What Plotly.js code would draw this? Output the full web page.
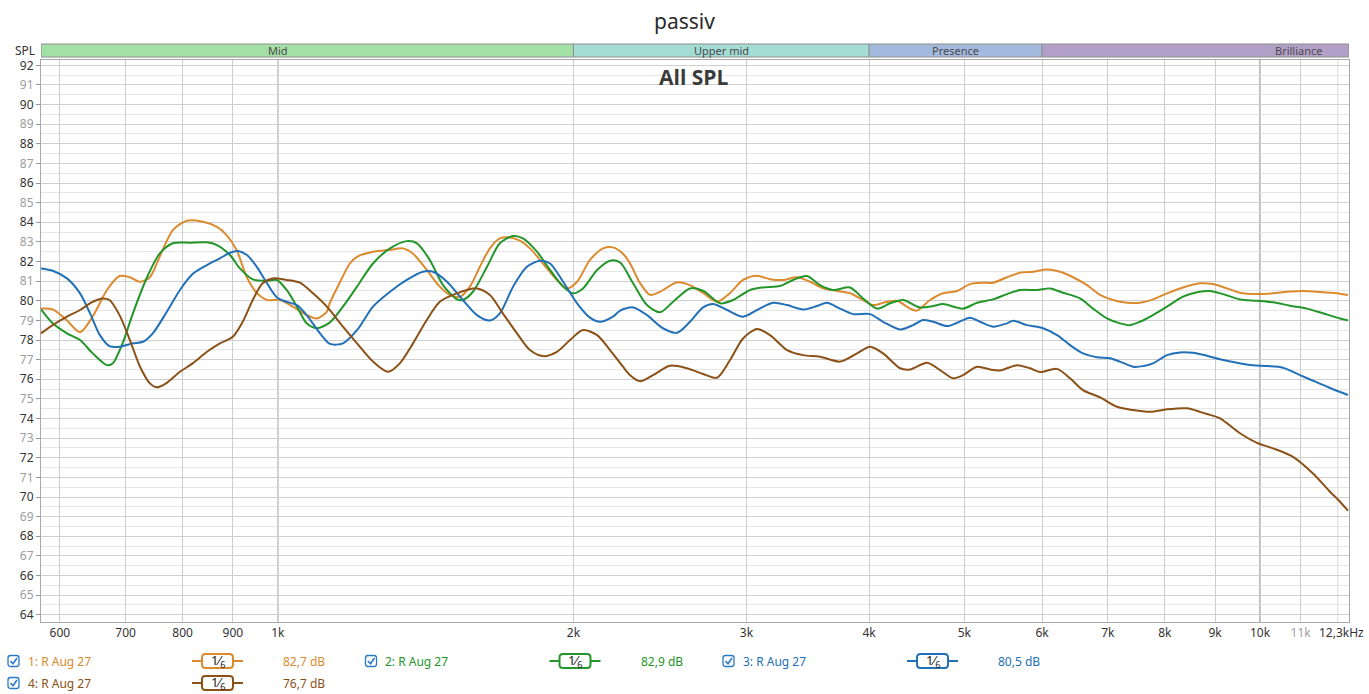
<!DOCTYPE html>
<html>
<head>
<meta charset="utf-8">
<script src="https://cdn.plot.ly/plotly-3.0.1.min.js"></script>
<style>
  html, body { margin: 0; padding: 0; background: #fff; }
  #chart { width: 1369px; height: 694px; }
</style>
</head>
<body>
<div id="chart"></div>
<script>
/* REW style SPL overlay, four measurements, 1/6 octave smoothing. */

// measurement 1 (orange)
const FREQ_1 = [574, 590, 610, 629, 648, 670, 690, 707, 724, 741, 758, 782, 808, 839, 867, 887, 908, 930, 952, 975,
  1005, 1036, 1070, 1096, 1122, 1130, 1157, 1184, 1204, 1250, 1301, 1341, 1373, 1418, 1462, 1497, 1533, 1569, 1606, 1644,
  1683, 1723, 1764, 1806, 1862, 1924, 1970, 2017, 2079, 2144, 2194, 2246, 2284, 2338, 2393, 2450, 2550, 2628, 2710, 2800,
  2887, 2976, 3076, 3171, 3269, 3378, 3483, 3590, 3710, 3825, 3943, 4037, 4172, 4270, 4403, 4476, 4614, 4757, 4916, 5067,
  5224, 5348, 5526, 5697, 5874, 6070, 6258, 6451, 6667, 6873, 7085, 7321, 7548, 7781, 8041, 8348, 8688, 8957, 9255, 9542,
  9930, 10310, 10654, 11061, 11511, 11979, 12291];
const SPL_1 = [79.6, 79.56, 79.0, 78.4, 79.2, 80.55, 81.26, 81.2, 80.97, 81.2, 82.24, 83.6, 84.08, 84.03, 83.77, 83.35, 82.58, 81.2, 80.4, 80.04,
  80.04, 79.7, 79.27, 79.1, 79.45, 79.9, 80.95, 81.9, 82.24, 82.5, 82.6, 82.67, 82.4, 81.57, 80.72, 80.3, 80.2, 80.72, 81.73, 82.67,
  83.18, 83.23, 83.06, 82.67, 81.9, 81.06, 80.63, 80.97, 82.08, 82.67, 82.72, 82.4, 81.9, 80.9, 80.3, 80.46, 80.94, 80.8, 80.4, 79.95,
  80.4, 81.06, 81.28, 81.1, 81.06, 81.2, 80.97, 80.63, 80.5, 80.38, 80.04, 79.78, 79.95, 80.0, 79.6, 79.5, 80.04, 80.38, 80.5, 80.85,
  80.92, 80.92, 81.2, 81.43, 81.48, 81.6, 81.48, 81.2, 80.8, 80.3, 80.04, 79.9, 79.9, 80.07, 80.38, 80.68, 80.89, 80.85, 80.63, 80.41,
  80.34, 80.38, 80.46, 80.5, 80.45, 80.38, 80.29];

// measurement 2 (green)
const FREQ_2 = [574, 590, 610, 629, 648, 670, 679, 695, 712, 736, 758, 782, 814, 847, 867, 894, 915, 943, 975, 998,
  1021, 1046, 1070, 1096, 1130, 1165, 1204, 1250, 1301, 1353, 1386, 1428, 1473, 1522, 1543, 1580, 1633, 1683, 1736, 1777,
  1836, 1893, 1952, 1998, 2045, 2114, 2179, 2231, 2300, 2376, 2450, 2526, 2628, 2710, 2820, 2907, 3026, 3119, 3246, 3346,
  3458, 3565, 3676, 3825, 3943, 4075, 4201, 4331, 4507, 4647, 4757, 4985, 5151, 5348, 5526, 5697, 5929, 6113, 6302, 6558,
  6761, 6985, 7202, 7373, 7548, 7781, 8041, 8348, 8627, 8894, 9169, 9542, 9930, 10310, 10729, 11165, 11592, 12063, 12291];
const SPL_2 = [79.56, 78.85, 78.34, 78.0, 77.32, 76.72, 76.8, 77.83, 79.36, 81.2, 82.4, 82.93, 82.96, 82.98, 82.84, 82.33, 81.65, 81.09, 81.02, 81.06,
  80.55, 79.7, 78.85, 78.6, 78.9, 79.7, 80.72, 81.9, 82.67, 83.04, 82.93, 82.08, 80.8, 80.07, 80.04, 80.46, 81.73, 82.93, 83.3, 83.18,
  82.5, 81.57, 80.72, 80.38, 80.63, 81.57, 82.04, 81.95, 80.89, 79.78, 79.41, 79.95, 80.63, 80.51, 79.87, 80.04, 80.55, 80.68, 80.75, 81.06,
  81.26, 80.8, 80.55, 80.68, 80.12, 79.6, 79.87, 80.04, 79.66, 79.73, 79.83, 79.6, 79.9, 80.07, 80.34, 80.55, 80.55, 80.63, 80.41, 80.12,
  79.6, 79.1, 78.85, 78.76, 78.93, 79.27, 79.7, 80.21, 80.43, 80.5, 80.34, 80.07, 80.0, 79.92, 79.75, 79.6, 79.36, 79.1, 79.0];

// measurement 3 (blue)
const FREQ_3 = [574, 590, 610, 629, 644, 659, 674, 690, 712, 729, 746, 771, 795, 819, 847, 873, 894, 911, 930, 952,
  975, 998, 1021, 1046, 1070, 1104, 1130, 1165, 1204, 1250, 1301, 1353, 1405, 1439, 1487, 1543, 1595, 1644, 1683, 1736,
  1793, 1849, 1893, 1952, 2017, 2079, 2129, 2194, 2231, 2300, 2376, 2467, 2550, 2628, 2710, 2774, 2867, 2976, 3076, 3193,
  3300, 3426, 3540, 3624, 3736, 3852, 4009, 4133, 4301, 4434, 4539, 4647, 4802, 4916, 5067, 5187, 5348, 5526, 5605, 5792,
  6013, 6214, 6406, 6604, 6825, 7035, 7202, 7425, 7601, 7781, 8041, 8290, 8546, 8831, 9105, 9475, 9837, 10166, 10554, 10983,
  11430, 11867, 12291];
const SPL_3 = [81.65, 81.53, 81.14, 80.38, 79.36, 78.25, 77.69, 77.66, 77.83, 77.91, 78.34, 79.44, 80.55, 81.36, 81.82, 82.16, 82.45, 82.54, 82.33, 81.73,
  80.89, 80.17, 79.95, 79.78, 79.27, 78.34, 77.8, 77.83, 78.5, 79.7, 80.46, 81.06, 81.48, 81.48, 80.97, 80.04, 79.27, 79.0, 79.36, 80.72,
  81.73, 82.04, 81.9, 80.97, 79.87, 79.14, 78.93, 79.19, 79.5, 79.66, 79.27, 78.6, 78.37, 78.93, 79.66, 79.83, 79.53, 79.19, 79.53, 79.9,
  79.78, 79.56, 79.73, 79.9, 79.6, 79.32, 79.32, 78.93, 78.54, 78.76, 79.02, 78.93, 78.71, 78.88, 79.14, 78.93, 78.68, 78.85, 78.98, 78.76,
  78.6, 78.25, 77.74, 77.32, 77.12, 77.07, 76.9, 76.64, 76.67, 76.81, 77.23, 77.37, 77.35, 77.2, 77.02, 76.84, 76.71, 76.67, 76.59, 76.21,
  75.84, 75.49, 75.2];

// measurement 4 (brown)
const FREQ_4 = [574, 590, 610, 629, 648, 663, 674, 690, 707, 724, 741, 753, 771, 795, 819, 847, 873, 900, 921, 943,
  965, 988, 1021, 1053, 1086, 1122, 1165, 1204, 1250, 1295, 1331, 1373, 1418, 1462, 1522, 1595, 1644, 1695, 1752, 1806,
  1862, 1924, 1984, 2045, 2114, 2179, 2246, 2284, 2338, 2410, 2508, 2610, 2710, 2800, 2887, 2976, 3076, 3171, 3300, 3426,
  3565, 3736, 3888, 4009, 4133, 4301, 4403, 4582, 4723, 4870, 4985, 5151, 5311, 5436, 5658, 5833, 5971, 6214, 6406, 6604,
  6873, 7151, 7425, 7727, 8041, 8427, 8688, 8831, 9105, 9542, 9930, 10310, 10805, 11323, 11784, 12063, 12291];
const SPL_4 = [78.34, 78.76, 79.19, 79.53, 79.95, 80.12, 80.04, 79.27, 78.0, 76.64, 75.79, 75.59, 75.82, 76.38, 76.81, 77.4, 77.83, 78.17, 78.93, 80.04,
  80.89, 81.14, 81.06, 80.92, 80.38, 79.7, 78.68, 77.83, 76.9, 76.38, 76.81, 77.83, 79.02, 79.95, 80.38, 80.63, 80.29, 79.36, 78.34, 77.49,
  77.18, 77.4, 78.0, 78.51, 78.25, 77.49, 76.64, 76.21, 75.9, 76.21, 76.69, 76.56, 76.27, 76.08, 76.98, 78.08, 78.56, 78.25, 77.49, 77.23,
  77.15, 76.9, 77.32, 77.66, 77.32, 76.56, 76.5, 76.84, 76.47, 76.05, 76.21, 76.64, 76.5, 76.45, 76.72, 76.56, 76.37, 76.53, 76.05, 75.45,
  75.08, 74.6, 74.43, 74.34, 74.47, 74.52, 74.34, 74.23, 74.01, 73.25, 72.76, 72.48, 72.05, 71.2, 70.27, 69.76, 69.3];

const NAMES = ["1: R Aug 27", "2: R Aug 27", "3: R Aug 27", "4: R Aug 27"];
const LEVELS = ["82,7 dB", "82,9 dB", "80,5 dB", "76,7 dB"];
const COLORS = ["#dc8a2e", "#23962a", "#2270b8", "#8b5117"];

// frequency bands shown in the strip above the graph
const BAND_NAMES = ["Mid", "Upper mid", "Presence", "Brilliance"];
const BAND_LO = [500, 2000, 4000, 6000];
const BAND_HI = [2000, 4000, 6000, 20000];
const BAND_COLORS = ["#a3e0a6", "#a4dcd6", "#a4b9de", "#b3a0c8"];

const X_TICKS = [600, 700, 800, 900, 1000, 2000, 3000, 4000, 5000, 6000, 7000, 8000, 9000, 10000, 11000];
const X_LABELS = ["600", "700", "800", "900", "1k", "2k", "3k", "4k", "5k", "6k", "7k", "8k", "9k", "10k",
  '<span style="color:#a0a0a0">11k</span>'];
const END_LABEL = "12,3kHz";
const DECADES = [1000, 10000];
const FAINT_LINES = [12000];

const F_MIN = 574;
const F_MAX = 12320;
const SPL_MIN = 63.63;
const SPL_MAX = 92.27;

// page geometry (px) so the legend row can sit where REW puts it
const W = 1369, H = 694;
const M = { l: 41, r: 20, t: 60, b: 72 };
const PW = W - M.l - M.r;
const PH = H - M.t - M.b;
const px = (x) => (x - M.l) / PW;
const py = (y) => (H - M.b - y) / PH;

const FONT = "'Noto Sans', 'Open Sans', 'DejaVu Sans', sans-serif";

const freqs = [FREQ_1, FREQ_2, FREQ_3, FREQ_4];
const spls = [SPL_1, SPL_2, SPL_3, SPL_4];

const traces = freqs.map((f, i) => ({
  x: f,
  y: spls[i],
  type: "scatter",
  mode: "lines",
  name: NAMES[i],
  line: { color: COLORS[i], width: 2, shape: "spline", smoothing: 0.8 },
  hoverinfo: "skip",
}));

const yTicks = [];
const yLabels = [];
for (let v = 64; v <= 92; v++) {
  yTicks.push(v);
  yLabels.push(v % 2 === 0 ? String(v) : '<span style="color:#9c9c9c">' + v + "</span>");
}

const shapes = [];
const annotations = [];

// band strip
const BAND_Y0 = py(57);
const BAND_Y1 = py(44);
BAND_NAMES.forEach((name, i) => {
  shapes.push({
    type: "rect", xref: "x", yref: "paper",
    x0: Math.max(BAND_LO[i], F_MIN), x1: Math.min(BAND_HI[i], F_MAX),
    y0: BAND_Y0, y1: BAND_Y1,
    fillcolor: BAND_COLORS[i],
    line: { color: "#8e8e8e", width: 1 },
  });
  annotations.push({
    xref: "x", yref: "paper",
    x: Math.log10(Math.sqrt(BAND_LO[i] * BAND_HI[i])),
    y: (BAND_Y0 + BAND_Y1) / 2,
    text: name, showarrow: false,
    font: { family: FONT, size: 11, color: "#4a4a4a" },
    xanchor: "center", yanchor: "middle",
  });
});

// darker decade lines, fainter line near the top end
DECADES.forEach((f) => {
  shapes.push({
    type: "line", xref: "x", yref: "paper", x0: f, x1: f, y0: 0, y1: 1,
    line: { color: "#707070", width: 1 }, layer: "below",
  });
});
FAINT_LINES.forEach((f) => {
  shapes.push({
    type: "line", xref: "x", yref: "paper", x0: f, x1: f, y0: 0, y1: 1,
    line: { color: "#dadada", width: 1 }, layer: "below",
  });
});

annotations.push({
  xref: "paper", yref: "paper", x: px(1366), y: py(632),
  text: END_LABEL, showarrow: false, xanchor: "right", yanchor: "middle",
  font: { family: FONT, size: 12, color: "#333" },
});
annotations.push({
  xref: "paper", yref: "paper", x: px(37), y: (BAND_Y0 + BAND_Y1) / 2,
  text: "SPL", showarrow: false, xanchor: "right", yanchor: "middle",
  font: { family: FONT, size: 12, color: "#333" },
});
annotations.push({
  xref: "paper", yref: "paper", x: px(694), y: py(77),
  text: "<b>All SPL</b>", showarrow: false, xanchor: "center", yanchor: "middle",
  font: { family: "'Open Sans', 'Noto Sans', sans-serif", size: 21, color: "#3a3a3a" },
});

// legend: checkbox, name, 1/6 smoothing badge, level
const SLOTS = [[0, 0], [0, 1], [0, 2], [1, 0]];
function roundRect(x0, y0, x1, y1, r) {
  const X = (v) => px(v).toFixed(5), Y = (v) => py(v).toFixed(5);
  return "M" + X(x0 + r) + "," + Y(y0) + " L" + X(x1 - r) + "," + Y(y0) +
    " Q" + X(x1) + "," + Y(y0) + " " + X(x1) + "," + Y(y0 + r) +
    " L" + X(x1) + "," + Y(y1 - r) +
    " Q" + X(x1) + "," + Y(y1) + " " + X(x1 - r) + "," + Y(y1) +
    " L" + X(x0 + r) + "," + Y(y1) +
    " Q" + X(x0) + "," + Y(y1) + " " + X(x0) + "," + Y(y1 - r) +
    " L" + X(x0) + "," + Y(y0 + r) +
    " Q" + X(x0) + "," + Y(y0) + " " + X(x0 + r) + "," + Y(y0) + " Z";
}
NAMES.forEach((name, i) => {
  const row = SLOTS[i][0], col = SLOTS[i][1];
  const cy = 661 + row * 22;
  const dx = col * 357.5;
  // checkbox
  shapes.push({
    type: "path", xref: "paper", yref: "paper",
    path: roundRect(8 + dx, cy - 5.5, 19 + dx, cy + 5.5, 2.5),
    line: { color: "#2a78c8", width: 1.3 }, fillcolor: "#ffffff",
  });
  shapes.push({
    type: "path", xref: "paper", yref: "paper",
    path: "M" + px(10.5 + dx) + "," + py(cy) + " L" + px(13 + dx) + "," + py(cy + 2.8) +
      " L" + px(17 + dx) + "," + py(cy - 3),
    line: { color: "#2a78c8", width: 1.6 },
  });
  annotations.push({
    xref: "paper", yref: "paper", x: px(26 + dx), y: py(cy),
    text: name, showarrow: false, xanchor: "left", yanchor: "middle",
    font: { family: FONT, size: 12, color: COLORS[i] },
  });
  // smoothing badge
  shapes.push({
    type: "line", xref: "paper", yref: "paper",
    x0: px(192 + dx), x1: px(243 + dx), y0: py(cy), y1: py(cy),
    line: { color: COLORS[i], width: 2 },
  });
  shapes.push({
    type: "path", xref: "paper", yref: "paper",
    path: roundRect(202 + dx, cy - 7, 233 + dx, cy + 7, 3.5),
    line: { color: COLORS[i], width: 2 }, fillcolor: "#ffffff",
  });
  annotations.push({
    xref: "paper", yref: "paper", x: px(217.5 + dx), y: py(cy),
    text: "1\u2044<sub>6</sub>", showarrow: false, xanchor: "center", yanchor: "middle",
    font: { family: FONT, size: 13, color: "#222" },
  });
  annotations.push({
    xref: "paper", yref: "paper", x: px(327 + dx), y: py(cy),
    text: LEVELS[i], showarrow: false, xanchor: "right", yanchor: "middle",
    font: { family: FONT, size: 12, color: COLORS[i] },
  });
});

const layout = {
  width: W,
  height: H,
  margin: M,
  paper_bgcolor: "#ffffff",
  plot_bgcolor: "#ffffff",
  showlegend: false,
  font: { family: FONT, size: 12, color: "#333" },
  title: {
    text: "passiv",
    xref: "container", x: 0.5, xanchor: "center",
    yref: "container", y: 1 - 22 / H, yanchor: "middle",
    font: { family: FONT, size: 21, color: "#2a2a2a" },
  },
  xaxis: {
    type: "log",
    range: [Math.log10(F_MIN), Math.log10(F_MAX)],
    tickmode: "array",
    tickvals: X_TICKS,
    ticktext: X_LABELS,
    ticks: "",
    showgrid: true,
    gridcolor: "#cdcdcd",
    gridwidth: 1,
    zeroline: false,
    showline: true,
    mirror: true,
    linecolor: "#a8a8a8",
    linewidth: 1,
    tickfont: { family: FONT, size: 12, color: "#333" },
    fixedrange: true,
  },
  yaxis: {
    range: [SPL_MIN, SPL_MAX],
    tickmode: "array",
    tickvals: yTicks,
    ticktext: yLabels,
    ticks: "outside",
    ticklen: 4,
    tickcolor: "#999",
    showgrid: true,
    gridcolor: "#cfcfcf",
    minor: { tickmode: "linear", tick0: 63.5, dtick: 1, showgrid: true, gridcolor: "#e6e6e6", ticks: "" },
    zeroline: false,
    showline: true,
    mirror: true,
    linecolor: "#a8a8a8",
    linewidth: 1,
    tickfont: { family: FONT, size: 12, color: "#333" },
    fixedrange: true,
  },
  shapes: shapes,
  annotations: annotations,
};

Plotly.newPlot("chart", traces, layout, { displayModeBar: false, staticPlot: true });
</script>
</body>
</html>
